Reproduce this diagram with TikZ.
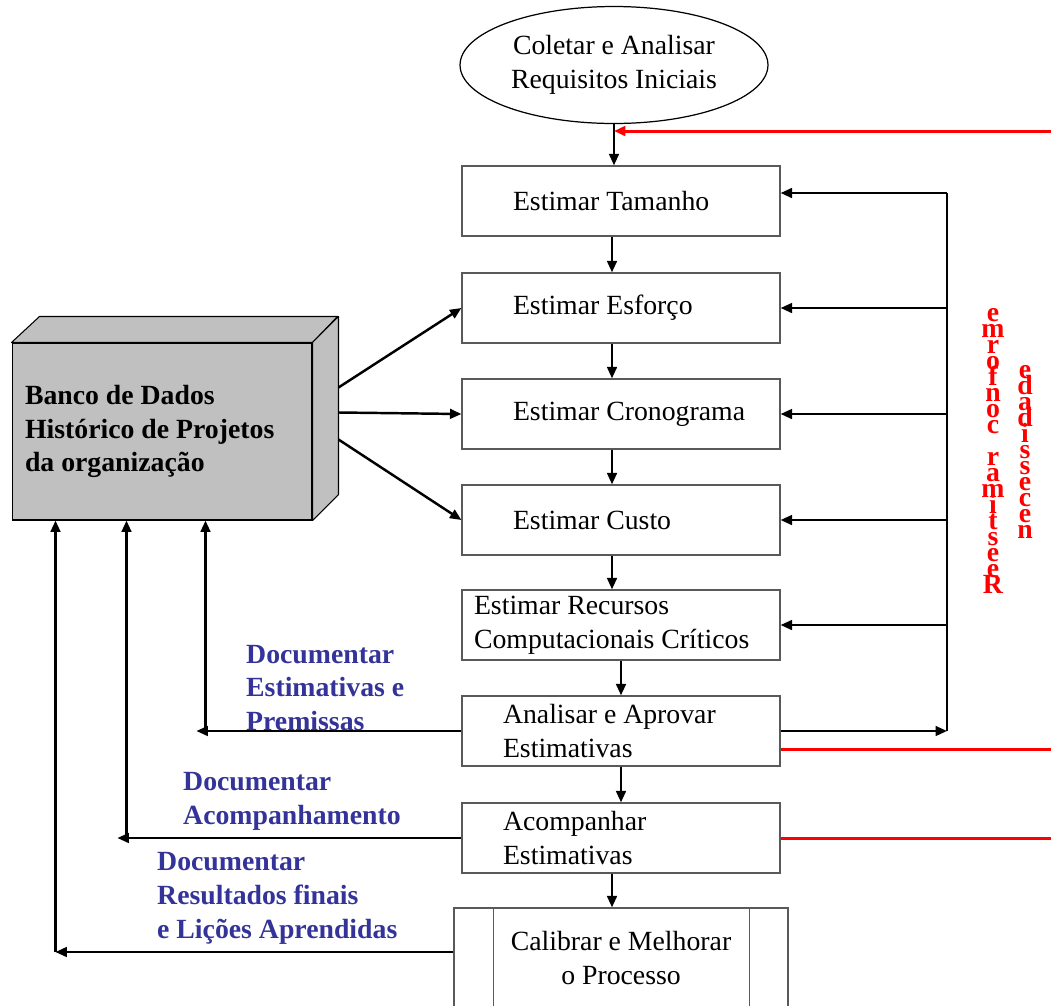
\documentclass[tikz,border=0pt]{standalone}
\usepackage{fontspec}
\setmainfont{Liberation Serif}
\usetikzlibrary{shapes.geometric,arrows.meta,calc,positioning}

\definecolor{docblue}{RGB}{51,51,153}
\definecolor{dbgray}{RGB}{192,192,192}
\newcommand\diagfont{\fontsize{15.8pt}{19.3pt}\selectfont}
\newcommand\vletters[1]{\vbox{\baselineskip=9.1pt\lineskiplimit=-\maxdimen
  \foreach \c in {#1}{\hbox to 1em{\hss\c\hss}}}}

\tikzset{
  stepbox/.style={draw=black!65, line width=0.7pt, minimum height=1.4cm,
    inner xsep=0pt, text width=6.36cm, align=flush left,
    execute at begin node={\leftskip=#1\relax}},
  stepbox/.default=1.02cm,
  dbbox/.style={draw, fill=dbgray, line width=0.6pt, minimum width=6cm,
    minimum height=3.54cm, inner xsep=0pt, text width=6cm, align=flush left,
    execute at begin node={\leftskip=0.26cm\relax}, font=\diagfont\bfseries},
  dbface/.style={draw, fill=dbgray, line width=0.6pt, line join=round},
  flow/.style={line width=1.4pt, -{Triangle[length=6.5pt,width=5.5pt]}},
  redflow/.style={red, line width=1.7pt},
  doclabel/.style={anchor=west, align=left, text=docblue, font=\diagfont\bfseries},
  vtext/.style={text=red, font=\diagfont\bfseries, inner sep=0pt},
}

\begin{document}
\begin{tikzpicture}[x=0.02cm, y=-0.02cm, every node/.style={font=\diagfont}]
  \useasboundingbox (0,0) rectangle (1051,1005);
  \clip (0,0) rectangle (1051,1005);

  % process steps
  \node[ellipse, draw, line width=0.7pt, minimum width=6.16cm, minimum height=2.34cm,
    inner sep=0pt, align=center] (coll) at (614,65) {Coletar e Analisar\\Requisitos Iniciais};
  \node[stepbox] (tam) at (621,201) {Estimar Tamanho};
  \node[stepbox] (esf) at (621,308) {Estimar Esforço};
  \node[stepbox] (cro) at (621,414) {Estimar Cronograma};
  \node[stepbox] (cus) at (621,520) {Estimar Custo};
  \node[stepbox=0.24cm] (rec) at (621,625) {Estimar Recursos\\Computacionais Críticos};
  \node[stepbox=0.82cm] (ana) at (621,731) {Analisar e Aprovar\\Estimativas};
  \node[stepbox=0.82cm] (aco) at (621,838) {Acompanhar\\Estimativas};
  \node[draw=black!65, line width=0.7pt, minimum width=6.68cm, minimum height=2cm,
    align=center] (cal) at (621,958) {Calibrar e Melhorar\\o Processo};
  \draw[black!65, line width=0.7pt] ($(cal.north west)+(40,0)$) -- ($(cal.south west)+(40,0)$);
  \draw[black!65, line width=0.7pt] ($(cal.north east)+(-39,0)$) -- ($(cal.south east)+(-39,0)$);

  % historical database
  \node[dbbox] (db) at (162,431.5) {Banco de Dados\\Histórico de Projetos\\da organização};
  \filldraw[dbface] (db.north west) -- ++(28,-26) -- ++(298,0) -- (db.north east) -- cycle;
  \filldraw[dbface] (db.north east) -- ++(26,-26) -- ++(0,178) -- (db.south east) -- cycle;
  \coordinate (dbr) at ($(db.north east)+(26,-26)$);
  \coordinate (dbx1) at ($(db.south west)+(194,0)$);
  \coordinate (dbx2) at ($(db.south west)+(115,0)$);
  \coordinate (dbx3) at ($(db.south west)+(44,0)$);

  % main flow
  \draw[flow] (coll.south) -- (coll.south |- tam.north);
  \draw[flow] ([xshift=-0.18cm]tam.south) -- ([xshift=-0.18cm]esf.north);
  \draw[flow] ([xshift=-0.18cm]esf.south) -- ([xshift=-0.18cm]cro.north);
  \draw[flow] ([xshift=-0.18cm]cro.south) -- ([xshift=-0.18cm]cus.north);
  \draw[flow] ([xshift=-0.18cm]cus.south) -- ([xshift=-0.18cm]rec.north);
  \draw[flow] (rec.south) -- (ana.north);
  \draw[flow] (ana.south) -- (aco.north);
  \draw[flow] ([xshift=-0.18cm]aco.south) -- ([xshift=-0.18cm]cal.north);

  \draw[flow] ($(dbr)+(0,71)$) -- (esf.west);
  \draw[flow] ($(dbr)+(0,96)$) -- (cro.west);
  \draw[flow] ($(dbr)+(0,123)$) -- (cus.west);

  % feedback loop
  \coordinate (fbtop) at (947,193);
  \draw[flow] (ana.east) -- (ana.east -| fbtop);
  \draw[line width=1.4pt] (ana.east -| fbtop) -- (fbtop);
  \draw[flow] (fbtop) -- (fbtop -| tam.east);
  \foreach \b in {esf,cro,cus,rec}
    \draw[flow] (\b.east -| fbtop) -- (\b.east);

  \coordinate (redin) at (1051,131);
  \draw[redflow, -{Triangle[length=6.5pt,width=5.5pt]}] (redin) -- (redin -| coll.south);
  \draw[redflow] ([yshift=-0.36cm]ana.east) -- ++(271,0);
  \draw[redflow] (aco.east) -- ++(271,0);

  \node[vtext] (reest) at (993,451) {\vletters{e,m,r,o,f,n,o,c,{},r,a,m,i,t,s,e,e,R}};
  \node[vtext] (need) at (1025,452) {\vletters{e,d,a,d,i,s,s,e,c,e,n}};

  % documentation
  \draw[flow] (ana.west) -- ++(-265,0);
  \draw[flow] (ana.west -| dbx1) -- (dbx1);
  \draw[flow] (aco.west) -- ++(-344,0);
  \draw[flow] (aco.west -| dbx2) -- (dbx2);
  \draw[flow] ([yshift=0.12cm]cal.west) -- ++(-398,0);
  \draw[flow] ([yshift=0.12cm]cal.west -| dbx3) -- (dbx3);

  \node[doclabel] (doc1) at (240,688) {Documentar\\Estimativas e\\Premissas};
  \node[doclabel] (doc2) at (177,801) {Documentar\\Acompanhamento};
  \node[doclabel] (doc3) at (151,898) {Documentar\\Resultados finais\\e Lições Aprendidas};
\end{tikzpicture}
\end{document}
